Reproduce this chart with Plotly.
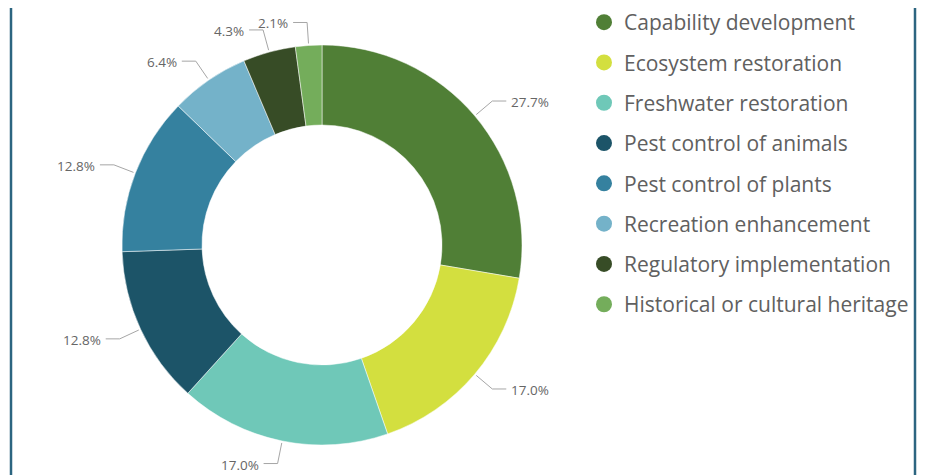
import math
import plotly.graph_objects as go

categories = ["Capability development", "Ecosystem restoration", "Freshwater restoration",
              "Pest control of animals", "Pest control of plants", "Recreation enhancement",
              "Regulatory implementation", "Historical or cultural heritage"]
counts = [13, 8, 8, 6, 6, 3, 2, 1]
colors = ["#507f36", "#d3df3f", "#6fc8b8", "#1c5468", "#35819f", "#74b2c9", "#374c26", "#74ad5b"]

OFF = 8                      # page body margin
W, H = 939 - OFF, 475 - OFF  # figure size so the page fits the window
cx, cy, R = 322, 245, 200    # pie centre / radius in page pixels
FONT = "Open Sans"

def px(x):
    return (x - OFF) / W

def py(y):
    return 1 - (y - OFF) / H

fig = go.Figure()
fig.add_trace(go.Pie(
    labels=categories, values=counts, sort=False, direction="clockwise", rotation=0,
    hole=0.6, marker=dict(colors=colors, line=dict(color="white", width=0.5)),
    textinfo="none", hoverinfo="label+percent", showlegend=False,
    domain=dict(x=[px(cx - R), px(cx + R)], y=[py(cy + R), py(cy - R)]),
))

# legend entries (circle markers)
for i, (c, col) in enumerate(zip(categories, colors)):
    fig.add_trace(go.Scatter(x=[None], y=[None], mode="markers", name=c,
                             legendgroup=f"g{i}",
                             marker=dict(size=17, color=col, symbol="circle")))

# outside labels with leader lines, positioned from the data
total = sum(counts)
shapes = []
annotations = []
cum = 0
for v in counts:
    mid = (cum + v / 2) / total
    cum += v
    th = 2 * math.pi * mid
    s, c = math.sin(th), math.cos(th)
    x0, y0 = cx + (R + 2) * s, cy - (R + 2) * c
    x1, y1 = cx + (R + 23) * s, cy - (R + 23) * c
    d = 1 if s >= 0 else -1
    x2 = x1 + 14 * d
    shapes.append(dict(type="path", xref="paper", yref="paper",
                       path=f"M {px(x0)} {py(y0)} L {px(x1)} {py(y1)} L {px(x2)} {py(y1)}",
                       line=dict(color="#a6a6a6", width=1)))
    annotations.append(dict(xref="paper", yref="paper", x=px(x2 + 3 * d), y=py(y1 + 1),
                            text=f"{v / total * 100:.1f}%", showarrow=False,
                            xanchor="left" if d > 0 else "right", yanchor="middle",
                            font=dict(family=FONT, size=13.5, color="#666666")))

# card borders
for xb in (11, 915):
    shapes.append(dict(type="line", xref="paper", yref="paper", x0=px(xb), x1=px(xb),
                       y0=0, y1=py(0), line=dict(color="#2c6580", width=2.5)))

fig.update_layout(
    width=W, height=H, margin=dict(l=0, r=0, t=0, b=0, autoexpand=False),
    paper_bgcolor="white", plot_bgcolor="white",
    xaxis=dict(visible=False), yaxis=dict(visible=False),
    shapes=shapes, annotations=annotations,
    legend=dict(x=px(584), xanchor="left", y=py(2), yanchor="top",
                maxheight=460,
                font=dict(family=FONT, size=21, color="#606060"),
                traceorder="grouped", tracegroupgap=10, itemsizing="trace",
                bgcolor="rgba(0,0,0,0)"),
)

fig.write_html("out.html")
